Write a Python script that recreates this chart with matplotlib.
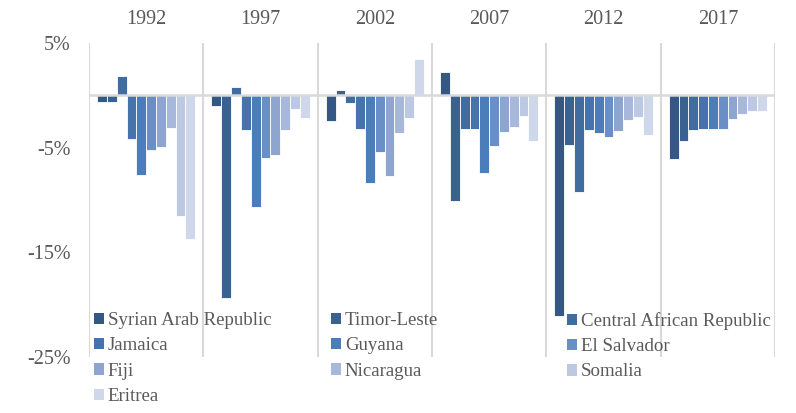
import matplotlib
matplotlib.use("Agg")
import matplotlib.pyplot as plt
import numpy as np
from matplotlib.patches import Patch

years = ["1992", "1997", "2002", "2007", "2012", "2017"]
countries = ["Syrian Arab Republic", "Timor-Leste", "Central African Republic",
             "Jamaica", "Guyana", "El Salvador", "Fiji", "Nicaragua",
             "Somalia", "Eritrea"]
syria       = [-0.6, -1.0, -2.5,  2.2, -21.1, -6.1]
timor       = [-0.6, -19.4, 0.5, -10.1, -4.7, -4.35]
car         = [1.8,  0.8, -0.7, -3.2, -9.25, -3.3]
jamaica     = [-4.2, -3.35, -3.25, -3.2, -3.3, -3.25]
guyana      = [-7.6, -10.7, -8.4, -7.4, -3.6, -3.2]
el_salvador = [-5.2, -6.0, -5.45, -4.8, -3.95, -3.2]
fiji        = [-4.9, -5.7, -7.75, -3.5, -3.4, -2.25]
nicaragua   = [-3.1, -3.3, -3.6, -3.0, -2.4, -1.8]
somalia     = [-11.5, -1.3, -2.2, -1.95, -2.05, -1.5]
eritrea     = [-13.7, -2.2, 3.45, -4.4, -3.8, -1.5]
series = [syria, timor, car, jamaica, guyana, el_salvador, fiji, nicaragua, somalia, eritrea]
colors = ["#345783", "#3A6291", "#416C9F", "#4673AB", "#4C7DBB",
          "#6A8EC6", "#8EA6CF", "#A7B8DA", "#BDC9E3", "#CED8EA"]

plt.rcParams['font.family'] = ['Liberation Serif', 'DejaVu Serif']
fig = plt.figure(figsize=(7.96, 4.13), dpi=100)
ax = fig.add_axes([89/796, 1-357/413, (775-89)/796, (357-43)/413])

x = np.arange(len(years))
n = len(series)
slot = 0.86 / n
for i, (vals, c) in enumerate(zip(series, colors)):
    ax.bar(x - 0.43 + slot*(i+0.5), vals, width=slot, color=c,
           edgecolor="white", linewidth=0.6, label=countries[i], zorder=2)

ax.set_xlim(-0.5, 5.5)
ax.set_ylim(-25, 5)
for b in np.arange(-0.5, 6.0, 1.0):
    ax.axvline(b, color="#D9D9D9", linewidth=1.5, zorder=1)
ax.axhline(0, color="#D9D9D9", linewidth=1.8, zorder=3)

for s in ax.spines.values():
    s.set_visible(False)
ax.xaxis.tick_top()
ax.set_xticks(x)
ax.set_xticklabels(years, fontsize=14.5, color="#595959")
ax.tick_params(axis="x", length=0, pad=10)
ax.set_yticks([5, -5, -15, -25])
ax.set_yticklabels(["5%", "-5%", "-15%", "-25%"], fontsize=14.5, color="#595959")
ax.tick_params(axis="y", length=0, pad=13)

handles = [Patch(facecolor=c, edgecolor="none") for c in colors]
cols = [[0, 3, 6, 9], [1, 4, 7], [2, 5, 8]]
xs = [94, 331, 567]
for idx, xpos in zip(cols, xs):
    leg = fig.legend([handles[i] for i in idx], [countries[i] for i in idx],
                     loc="upper left", bbox_to_anchor=(xpos/796, 1-312/413),
                     frameon=False, fontsize=13.6, handlelength=0.55, handleheight=0.55,
                     handletextpad=0.18, labelspacing=0.44, borderaxespad=0, borderpad=0)
    for t in leg.get_texts():
        t.set_color("#595959")

fig.savefig("out.png", dpi=100)
